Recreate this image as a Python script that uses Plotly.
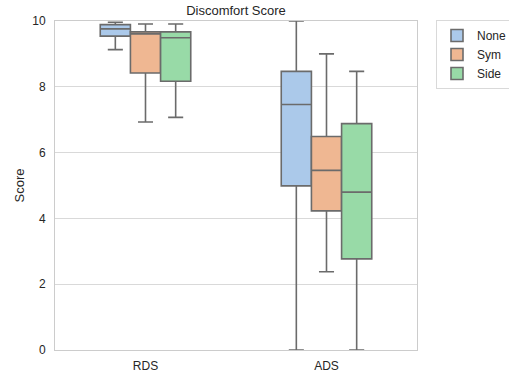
import plotly.graph_objects as go

categories = ["RDS", "ADS"]
series = ["None", "Sym", "Side"]

none_q1 = [9.54, 4.99]
none_med = [9.76, 7.46]
none_q3 = [9.89, 8.47]
none_lo = [9.13, 0.0]
none_hi = [9.96, 10.0]

sym_q1 = [8.42, 4.23]
sym_med = [9.61, 5.46]
sym_q3 = [9.67, 6.49]
sym_lo = [6.93, 2.38]
sym_hi = [9.91, 9.0]

side_q1 = [8.17, 2.77]
side_med = [9.49, 4.80]
side_q3 = [9.67, 6.88]
side_lo = [7.07, 0.0]
side_hi = [9.91, 8.47]

colors = ["#abc9ea", "#efb792", "#98daa7"]
stats = [
    (none_q1, none_med, none_q3, none_lo, none_hi),
    (sym_q1, sym_med, sym_q3, sym_lo, sym_hi),
    (side_q1, side_med, side_q3, side_lo, side_hi),
]

fig = go.Figure()
for name, col, (q1, med, q3, lo, hi) in zip(series, colors, stats):
    fig.add_trace(go.Box(
        name=name, x=categories, q1=q1, median=med, q3=q3,
        lowerfence=lo, upperfence=hi,
        fillcolor=col, line=dict(color="#6b6b6b", width=1.6),
        whiskerwidth=0.5, boxpoints=False,
    ))

fig.update_layout(
    width=509, height=375,
    margin=dict(l=55, r=92, t=21, b=25, autoexpand=False),
    paper_bgcolor="white", plot_bgcolor="white",
    font=dict(family="Liberation Sans, Arial, sans-serif", size=12, color="#262626"),
    boxmode="group", boxgap=0.5, boxgroupgap=0,
    title=dict(text="Discomfort Score", x=0.5, xref="paper", xanchor="center",
               y=1 - 10 / 375, yref="container", yanchor="middle",
               font=dict(size=13, color="#262626")),
    legend=dict(x=436 / 509, y=1 - 20 / 375, xref="container", yref="container",
                xanchor="left", yanchor="top",
                bordercolor="#d9d9d9", borderwidth=1, bgcolor="white",
                font=dict(size=12), tracegroupgap=0),
    showlegend=True,
)
fig.update_xaxes(showgrid=False, showline=True, mirror=True, linecolor="#cccccc",
                 linewidth=1, ticks="", zeroline=False, ticklabelstandoff=5)
fig.update_yaxes(range=[0, 10], dtick=2, showgrid=True, gridcolor="#d9d9d9",
                 showline=True, mirror=True, linecolor="#cccccc", linewidth=1,
                 zeroline=False, ticks="", ticklabelstandoff=6,
                 title=dict(text="Score", font=dict(size=13), standoff=4))

fig.write_html("out.html")
